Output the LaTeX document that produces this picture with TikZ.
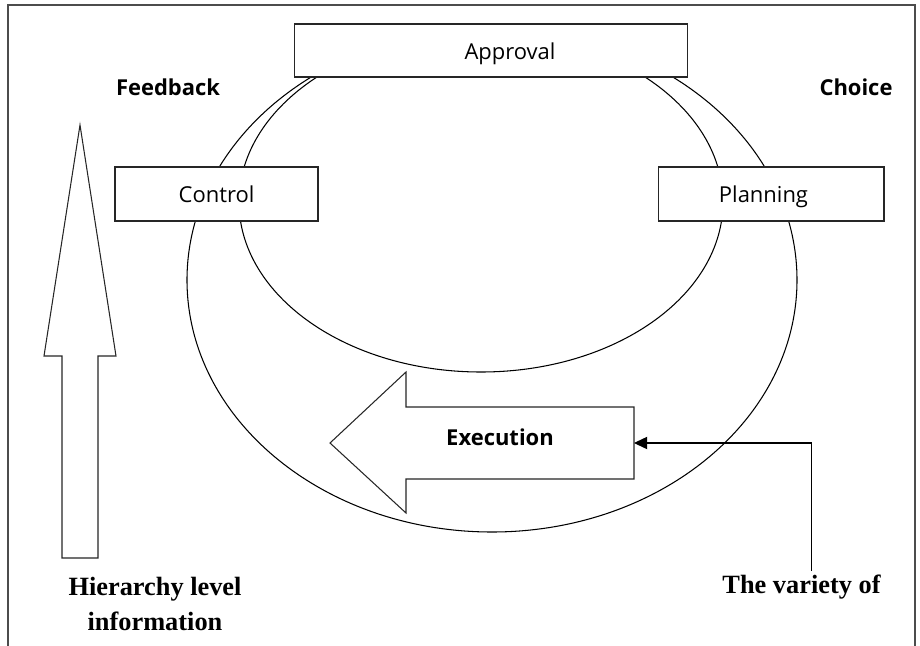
\documentclass[tikz,border=0pt]{standalone}
\usepackage{fontspec}
\setmainfont{Liberation Serif}
\setsansfont{Open Sans}
\usetikzlibrary{arrows.meta}
\tikzset{
	stage/.style={draw=black!85,fill=white,line width=0.6pt,inner sep=0pt,
		text height=10pt,text depth=-5.5pt,
		font=\sffamily\fontsize{12.5}{15}\selectfont},
	tag/.style={font=\sffamily\bfseries\fontsize{12.5}{15}\selectfont},
	note/.style={font=\bfseries\fontsize{15}{20}\selectfont,align=center,inner sep=2pt},
	blockarrow/.style={draw=black!85,fill=white,line width=0.6pt},
}
\begin{document}
\begin{tikzpicture}[x=0.02cm,y=-0.02cm]
		\useasboundingbox (0,0) rectangle (920,646);
		\draw[black!70,line width=0.8pt] (8,646) -- (8,5) -- (915,5) -- (915,646);

		% the two loops
		\draw[line width=0.6pt] (492,280) ellipse [x radius=305,y radius=252];
		\draw[line width=0.6pt] (481,202) ellipse [x radius=242,y radius=170];

		\node[stage,minimum width=7.88cm,minimum height=1.06cm] (approval) at (491,50.5) {\hspace*{0.76cm}Approval};
		\node[stage,minimum width=4.06cm,minimum height=1.08cm] (control) at (216.5,194) {Control};
		\node[stage,minimum width=4.52cm,minimum height=1.08cm] (planning) at (771,194) {Planning\hspace*{0.3cm}};

		\node[tag] (feedback) at (168,87) {Feedback};
		\node[tag] (choice) at (856,87) {Choice};

		% hierarchy arrow
		\draw[blockarrow] (80,125) -- (116,356) -- (98,356) -- (98,558) -- (62,558) -- (62,356) -- (44,356) -- cycle;
		\node[note] (hierarchy) at (155,604) {Hierarchy level\\information};

		% execution arrow
		\draw[blockarrow] (330,443) -- (406,372) -- (406,407) -- (634,407) -- (634,479) -- (406,479) -- (406,513) -- cycle;
		\coordinate (execR) at (634,443);
		\node[tag] (execution) at (500,437) {Execution};

		\node[note] (variety) at (801.5,587) {The variety of};
		\draw[line width=0.6pt,-{Triangle[length=7.5pt,width=7pt]}] ([xshift=0.2cm]variety.north) |- (execR);
	\end{tikzpicture}
\end{document}
